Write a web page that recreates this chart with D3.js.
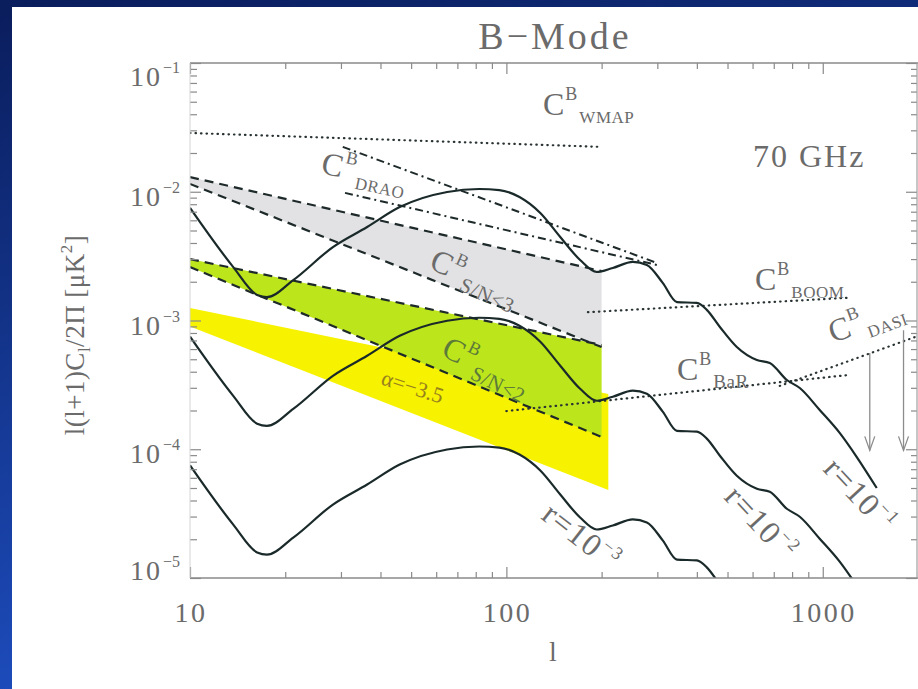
<!DOCTYPE html>
<html>
<head>
<meta charset="utf-8">
<script src="https://cdnjs.cloudflare.com/ajax/libs/d3/7.8.5/d3.min.js"></script>
<style>
  html, body { margin: 0; padding: 0; background: #fff; }
  svg { display: block; }
  text { font-family: "Liberation Serif", "DejaVu Serif", serif; fill: #6b6b6b; }
</style>
</head>
<body>
<div id="chart"></div>
<script>
// multipole values shared by the three tensor spectra
var ells = [10, 13.7, 16.3, 17.5, 21.2, 28.3, 36.3, 46, 65, 82, 95, 110, 128, 148, 171, 193,
            217, 251, 278, 312, 346, 400, 430, 473, 535, 619, 680, 770, 846, 978, 1131, 1281, 1481];

// B-mode power for r = 0.1, 0.01, 0.001
var bbR1 = [7.5e-3, 2.6e-3, 1.58e-3, 1.52e-3, 2.06e-3, 3.72e-3, 5.32e-3, 7.6e-3, 9.96e-3, 1.05e-2, 1.03e-2,
            9.1e-3, 6.84e-3, 4.45e-3, 2.95e-3, 2.38e-3, 2.56e-3, 2.85e-3, 2.70e-3, 1.96e-3, 1.39e-3, 1.37e-3,
            1.21e-3, 8.9e-4, 6.22e-4, 4.93e-4, 4.68e-4, 3.45e-4, 2.99e-4, 2.02e-4, 1.34e-4, 8.7e-5, 5.0e-5];
var bbR2 = [7.5e-4, 2.6e-4, 1.58e-4, 1.52e-4, 2.06e-4, 3.72e-4, 5.32e-4, 7.6e-4, 9.96e-4, 1.05e-3, 1.03e-3,
            9.1e-4, 6.84e-4, 4.45e-4, 2.95e-4, 2.38e-4, 2.56e-4, 2.85e-4, 2.70e-4, 1.96e-4, 1.39e-4, 1.37e-4,
            1.21e-4, 8.9e-5, 6.22e-5, 4.93e-5, 4.68e-5, 3.45e-5, 2.99e-5, 2.02e-5, 1.34e-5, 8.7e-6, 5.0e-6];
var bbR3 = [7.5e-5, 2.6e-5, 1.58e-5, 1.52e-5, 2.06e-5, 3.72e-5, 5.32e-5, 7.6e-5, 9.96e-5, 1.05e-4, 1.03e-4,
            9.1e-5, 6.84e-5, 4.45e-5, 2.95e-5, 2.38e-5, 2.56e-5, 2.85e-5, 2.70e-5, 1.96e-5, 1.39e-5, 1.37e-5,
            1.21e-5, 8.9e-6, 6.22e-6, 4.93e-6, 4.68e-6, 3.45e-6, 2.99e-6, 2.02e-6, 1.34e-6, 8.7e-7, 5.0e-7];

// straight (power law) sensitivity lines: end points
var wmapL = [10, 200],   wmapC = [2.86e-2, 2.23e-2];
var draoUpL = [30.4, 299], draoUpC = [2.23e-2, 2.8e-3];
var draoLoL = [30.9, 299], draoLoC = [9.8e-3, 2.7e-3];
var sn3L = [10, 200], sn3Hi = [1.30e-2, 2.42e-3], sn3Lo = [1.15e-2, 6.22e-4];
var sn2L = [10, 200], sn2Hi = [3.0e-3, 6.45e-4], sn2Lo = [2.6e-3, 1.245e-4];
var fgL = [10, 210],  fgHi = [1.25e-3, 2.69e-4], fgLo = [9.0e-4, 4.83e-5];
var boomL = [181, 1191], boomC = [1.16e-3, 1.50e-3];
var barL = [100, 1200],  barC = [1.98e-4, 3.77e-4];
var dasiL = [731, 2000], dasiC = [3.10e-4, 7.58e-4];
var dasiLimL = [1408, 1800], dasiLimTop = [5.6e-4, 8.4e-4], dasiLimBot = [9.8e-5, 9.8e-5];

// tick values
var xMajor = [10, 100, 1000];
var xMinor = [20, 30, 40, 50, 60, 70, 80, 90, 200, 300, 400, 500, 600, 700, 800, 900, 2000];
var yMajor = [1e-1, 1e-2, 1e-3, 1e-4, 1e-5];
var yExp = ["\u22121", "\u22122", "\u22123", "\u22124", "\u22125"];
var yMinor = [];
[1e-5, 1e-4, 1e-3, 1e-2].forEach(function(d) {
  [2, 3, 4, 5, 6, 7, 8, 9].forEach(function(k) { yMinor.push(d * k); });
});

var W = 918, H = 689;
var pL = 190, pR = 918, pT = 63, pB = 578;

var x = d3.scaleLog().domain([10, 2000]).range([pL, pR]);
var y = d3.scaleLog().domain([1e-5, 1e-1]).range([pB, pT]);

var svg = d3.select("#chart").append("svg").attr("width", W).attr("height", H);

var defs = svg.append("defs");
var grad = defs.append("linearGradient").attr("id", "bg").attr("x1", 0).attr("y1", 0).attr("x2", 0.3).attr("y2", 1);
grad.append("stop").attr("offset", "0%").attr("stop-color", "#0a1d5c");
grad.append("stop").attr("offset", "100%").attr("stop-color", "#1e4fc2");
defs.append("clipPath").attr("id", "plot").append("rect")
    .attr("x", pL).attr("y", pT).attr("width", pR - pL).attr("height", pB - pT);

// blue frame and white panel
svg.append("rect").attr("width", W).attr("height", H).attr("fill", "url(#bg)");
svg.append("rect").attr("x", 12).attr("y", 7).attr("width", W - 12).attr("height", H - 7).attr("fill", "#fff");

var plot = svg.append("g").attr("clip-path", "url(#plot)");

function pairs(ls, vs) { return ls.map(function(l, i) { return [l, vs[i]]; }); }

function band(ls, hi, lo) {
  var pts = pairs(ls, hi).concat(pairs(ls, lo).reverse());
  return "M" + pts.map(function(p) { return x(p[0]) + "," + y(p[1]); }).join("L") + "Z";
}

var line = d3.line().x(function(d) { return x(d[0]); }).y(function(d) { return y(d[1]); });
var smooth = d3.line().x(function(d) { return x(d[0]); }).y(function(d) { return y(d[1]); })
    .curve(d3.curveMonotoneX);

// shaded regions
plot.append("path").attr("d", band(fgL, fgHi, fgLo)).attr("fill", "#f6f200");
plot.append("path").attr("d", band(sn2L, sn2Hi, sn2Lo)).attr("fill", "#bde51c");
plot.append("path").attr("d", band(sn3L, sn3Hi, sn3Lo)).attr("fill", "#e2e2e4");

// dashed S/N lines
[[sn3L, sn3Hi], [sn3L, sn3Lo], [sn2L, sn2Hi], [sn2L, sn2Lo]].forEach(function(s) {
  plot.append("path").attr("d", line(pairs(s[0], s[1])))
      .attr("fill", "none").attr("stroke", "#1e2a2a").attr("stroke-width", 2.2)
      .attr("stroke-dasharray", "9,6");
});

// dotted experiment lines
[[wmapL, wmapC], [boomL, boomC], [barL, barC], [dasiL, dasiC]].forEach(function(s) {
  plot.append("path").attr("d", line(pairs(s[0], s[1])))
      .attr("fill", "none").attr("stroke", "#2a3333").attr("stroke-width", 2.2)
      .attr("stroke-linecap", "round").attr("stroke-dasharray", "0.5,5");
});

// dash-dot DRAO lines
[[draoUpL, draoUpC], [draoLoL, draoLoC]].forEach(function(s) {
  plot.append("path").attr("d", line(pairs(s[0], s[1])))
      .attr("fill", "none").attr("stroke", "#1e2a2a").attr("stroke-width", 2)
      .attr("stroke-dasharray", "8,4,2,4");
});

// tensor spectra
[bbR1, bbR2, bbR3].forEach(function(vs) {
  plot.append("path").attr("d", smooth(pairs(ells, vs)))
      .attr("fill", "none").attr("stroke", "#1a2929").attr("stroke-width", 2.2);
});

// DASI upper limits
dasiLimL.forEach(function(l, i) {
  var px = x(l), y0 = y(dasiLimTop[i]), y1 = y(dasiLimBot[i]);
  var g = svg.append("g").attr("stroke", "#8c8c8c").attr("stroke-width", 1.3).attr("fill", "none");
  g.append("line").attr("x1", px).attr("x2", px).attr("y1", y0).attr("y2", y1);
  g.append("path").attr("d", "M" + (px - 5) + "," + (y1 - 14) + "L" + px + "," + y1 + "L" + (px + 5) + "," + (y1 - 14));
});

// axes (ticks only, pointing inward)
function ticks(gen, tr) {
  var g = svg.append("g").attr("transform", tr).call(gen);
  g.select(".domain").remove();
  g.selectAll("line").attr("stroke", "#8a8a8a").attr("stroke-width", 1.2);
  g.selectAll("text").remove();
}
ticks(d3.axisBottom(x).tickValues(xMajor).tickSize(-11), "translate(0," + pB + ")");
ticks(d3.axisBottom(x).tickValues(xMinor).tickSize(-6), "translate(0," + pB + ")");
ticks(d3.axisTop(x).tickValues(xMajor).tickSize(-11), "translate(0," + pT + ")");
ticks(d3.axisTop(x).tickValues(xMinor).tickSize(-6), "translate(0," + pT + ")");
ticks(d3.axisLeft(y).tickValues(yMajor).tickSize(-11), "translate(" + pL + ",0)");
ticks(d3.axisLeft(y).tickValues(yMinor).tickSize(-7), "translate(" + pL + ",0)");
ticks(d3.axisRight(y).tickValues(yMajor).tickSize(-11), "translate(" + (pR - 1) + ",0)");
ticks(d3.axisRight(y).tickValues(yMinor).tickSize(-6), "translate(" + (pR - 1) + ",0)");

// frame lines
svg.append("line").attr("x1", pL).attr("x2", pR).attr("y1", pB).attr("y2", pB)
    .attr("stroke", "#8a8a8a").attr("stroke-width", 1.6);
svg.append("line").attr("x1", pL).attr("x2", pR).attr("y1", pT).attr("y2", pT)
    .attr("stroke", "#8a8a8a").attr("stroke-width", 1.6);
svg.append("line").attr("x1", pL).attr("x2", pL).attr("y1", pT).attr("y2", pB)
    .attr("stroke", "#d4d4d4").attr("stroke-width", 1);
svg.append("line").attr("x1", pR - 1).attr("x2", pR - 1).attr("y1", pT).attr("y2", pB)
    .attr("stroke", "#a0a0a0").attr("stroke-width", 1.2);

// tick labels
xMajor.forEach(function(v) {
  svg.append("text").attr("x", x(v) + 1).attr("y", 622).attr("text-anchor", "middle")
      .attr("font-size", 28).attr("letter-spacing", 2.5).text(String(v));
});
yMajor.forEach(function(v, i) {
  var cy = Math.max(76, Math.min(570, y(v) + 4));
  var t = svg.append("text").attr("x", 180).attr("y", cy + 10).attr("text-anchor", "end")
      .attr("font-size", 28).attr("letter-spacing", 2);
  t.append("tspan").text("10");
  t.append("tspan").attr("font-size", 16).attr("dy", -13).attr("dx", 1).attr("letter-spacing", 0).text(yExp[i]);
});

// titles
svg.append("text").attr("x", 555).attr("y", 49).attr("text-anchor", "middle")
    .attr("font-size", 38).attr("letter-spacing", 3).text("B\u2212Mode");
svg.append("text").attr("x", 553).attr("y", 661).attr("text-anchor", "middle")
    .attr("font-size", 28).text("l");
var yt = svg.append("text").attr("transform", "translate(84,335) rotate(-90)")
    .attr("text-anchor", "middle").attr("font-size", 27).attr("letter-spacing", 0.5);
yt.append("tspan").text("l(l+1)C");
yt.append("tspan").attr("font-size", 17).attr("dy", 6).text("l");
yt.append("tspan").attr("dy", -6).text("/2\u03a0 [\u03bcK");
yt.append("tspan").attr("font-size", 17).attr("dy", -12).text("2");
yt.append("tspan").attr("dy", 12).text("]");

// C^B labels
function cbLabel(px, py, rot, sub, col, subSize) {
  var t = svg.append("text").attr("transform", "translate(" + px + "," + py + ") rotate(" + rot + ")")
      .attr("font-size", 32);
  if (col) t.style("fill", col);
  t.append("tspan").text("C");
  t.append("tspan").attr("font-size", 18).attr("dy", -15).attr("dx", 1).text("B");
  t.append("tspan").attr("font-size", subSize || 17).attr("dy", 23).attr("dx", 2)
      .attr("letter-spacing", 0.5).text(sub);
}
cbLabel(543, 115, 0, "WMAP");
cbLabel(755, 290, 0, "BOOM");
cbLabel(677, 380, 0, "BaR", null, 19);
cbLabel(320, 173, 12, "DRAO");
cbLabel(428, 268, 24, "S/N<3", null, 21);
cbLabel(440, 355, 26, "S/N<2", "#5c7a3a", 21);
cbLabel(833, 343, -20, "DASI");

svg.append("text").attr("x", 753).attr("y", 167).attr("font-size", 32).attr("letter-spacing", 2).text("70 GHz");

svg.append("text").attr("transform", "translate(380,384) rotate(18)")
    .attr("font-size", 22).style("fill", "#97801e").text("\u03b1=\u22123.5");

// r labels
function rLabel(px, py, rot, ex) {
  var t = svg.append("text").attr("transform", "translate(" + px + "," + py + ") rotate(" + rot + ")")
      .attr("font-size", 32).attr("letter-spacing", 1.5);
  t.append("tspan").text("r=10");
  t.append("tspan").attr("font-size", 18).attr("dy", -14).text(ex);
}
rLabel(822, 470, 47, "\u22121");
rLabel(723, 498, 47, "\u22122");
rLabel(540, 518, 38, "\u22123");
</script>
</body>
</html>
